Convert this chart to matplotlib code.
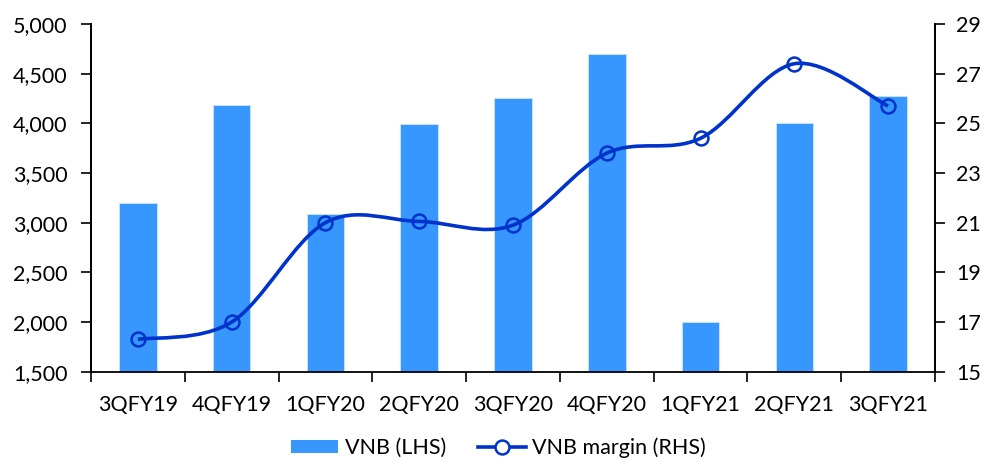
import matplotlib
matplotlib.use("Agg")
import matplotlib.pyplot as plt
from matplotlib.path import Path
from matplotlib.patches import PathPatch
from matplotlib.lines import Line2D
from matplotlib.patches import Patch
from matplotlib.ticker import FuncFormatter
import numpy as np

categories = ["3QFY19", "4QFY19", "1QFY20", "2QFY20", "3QFY20",
              "4QFY20", "1QFY21", "2QFY21", "3QFY21"]
vnb = [3195, 4180, 3085, 3995, 4255, 4700, 2005, 4005, 4275]
vnb_margin = [16.3, 17.0, 21.0, 21.05, 20.9, 23.8, 24.4, 27.4, 25.7]

bar_color = "#3797FE"
line_color = "#0033CC"

plt.rcParams["font.family"] = ["Lato", "DejaVu Sans"]
fs = 15.5

fig = plt.figure(figsize=(9.97, 4.59), dpi=100)
ax = fig.add_axes([0.0913, 0.1902, 0.8465, 0.7575])
ax2 = ax.twinx()

x = np.arange(len(categories))
ax.bar(x, vnb, width=0.4, color=bar_color, edgecolor="#cfe6ff", linewidth=0.6, zorder=2)
ax.set_ylim(1500, 5000)
ax.set_yticks(np.arange(1500, 5001, 500))
ax.yaxis.set_major_formatter(FuncFormatter(lambda v, p: f"{int(v):,}"))
ax.set_xlim(-0.5, len(categories) - 0.5)
ax.set_xticks(x)
ax.set_xticklabels(categories)
ax.set_xticks(np.arange(-0.5, len(categories) + 0.5, 1), minor=True)
ax.tick_params(axis="x", which="major", length=0, pad=17, labelsize=fs)
ax.tick_params(axis="x", which="minor", length=7, width=1.2, direction="out")
ax.tick_params(axis="y", length=7, width=1.2, direction="out", labelsize=fs, pad=10)

ax2.set_ylim(15, 29)
ax2.set_yticks(np.arange(15, 30, 2))
ax2.tick_params(axis="y", length=7, width=1.2, direction="out", labelsize=fs, pad=8)

for a in (ax, ax2):
    a.spines["top"].set_visible(False)
    for s in ("left", "right", "bottom"):
        a.spines[s].set_linewidth(1.3)
ax2.spines["bottom"].set_visible(False)

# Smoothed line (Excel-style Bezier through the data points)
y = np.array(vnb_margin, dtype=float)
xs = x.astype(float)
n = len(y)
verts = [(xs[0], y[0])]
codes = [Path.MOVETO]
for i in range(n - 1):
    p0 = np.array([xs[max(i - 1, 0)], y[max(i - 1, 0)]])
    p1 = np.array([xs[i], y[i]])
    p2 = np.array([xs[i + 1], y[i + 1]])
    p3 = np.array([xs[min(i + 2, n - 1)], y[min(i + 2, n - 1)]])
    c1 = p1 + (p2 - p0) / 6.0
    c2 = p2 - (p3 - p1) / 6.0
    verts += [tuple(c1), tuple(c2), tuple(p2)]
    codes += [Path.CURVE4, Path.CURVE4, Path.CURVE4]
path = Path(verts, codes)
ax2.add_patch(PathPatch(path, facecolor="none", edgecolor=line_color, linewidth=2.6, zorder=3))
ax2.plot(xs, y, linestyle="none", marker="o", markersize=10, markerfacecolor="none",
         markeredgecolor=line_color, markeredgewidth=1.8, zorder=4)

handles = [Patch(facecolor=bar_color, edgecolor="none"),
           Line2D([], [], color=line_color, linewidth=2.6, marker="o", markersize=10,
                  markerfacecolor="white", markeredgecolor=line_color, markeredgewidth=1.8)]
fig.legend(handles, ["VNB (LHS)", "VNB margin (RHS)"], loc="lower center",
           bbox_to_anchor=(0.5, -0.04), ncol=2, frameon=False, fontsize=fs,
           handlelength=2.2, handleheight=0.6, columnspacing=1.5, handletextpad=0.3)

fig.savefig("out.png", dpi=100)
